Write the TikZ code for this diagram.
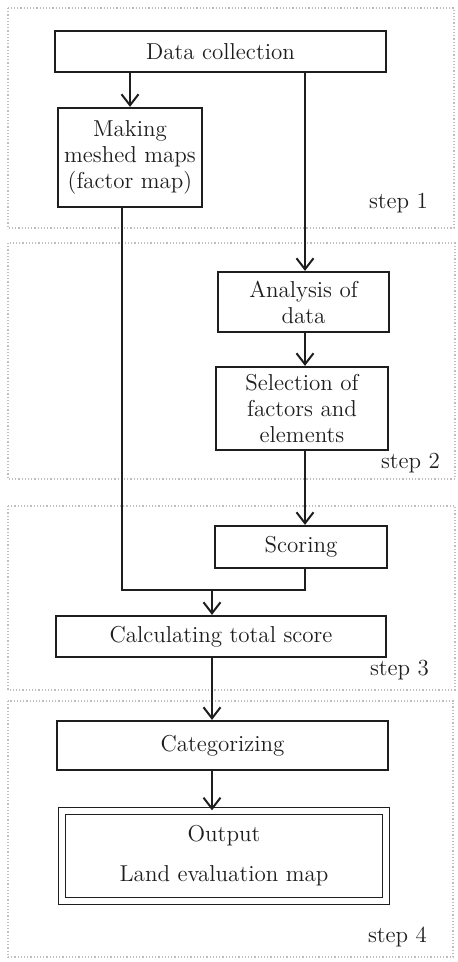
\documentclass[tikz,border=0pt]{standalone}
\usepackage{xcolor}
\definecolor{ink}{RGB}{30,30,30}
\definecolor{frame}{RGB}{190,190,190}
\usepackage{tikz}
\usetikzlibrary{arrows.meta,positioning,calc}

\begin{document}
\begin{tikzpicture}[
  x=0.5pt,y=-0.5pt,
  nd/.style={rectangle,draw=ink,line width=1.1pt,fill=white,text=ink,
             font=\fontsize{11.5}{13}\selectfont,inner sep=2pt,align=center},
  ar/.style={-{Straight Barb[length=5.5pt,width=8.5pt,line width=1pt]},ink,line width=1pt},
  ln/.style={ink,line width=1pt},
  stp/.style={font=\fontsize{11.5}{13}\selectfont,text=ink,anchor=east},
  fr/.style={draw=frame,densely dotted,line width=0.6pt},
]
  \useasboundingbox (0,0) rectangle (457,962);
  %% step frames
  \draw[fr] (8,8) rectangle (454,228);
  \draw[fr] (8,243) rectangle (455,479);
  \draw[fr] (8,506) rectangle (455,690);
  \draw[fr] (8,701) rectangle (453,957);
  \node[stp] (s1) at (435,203) {step 1};
  \node[stp] (s2) at (447,463) {step 2};
  \node[stp] (s3) at (436,670) {step 3};
  \node[stp] (s4) at (434,937) {step 4};

  \node[nd,minimum width=165.5pt,minimum height=20.5pt] (dc) at (220.5,51.5) {Data collection};
  \node[nd,minimum width=72pt,minimum height=49.5pt] (mesh) at (130,157.5)
    {Making\\meshed maps\\(factor map)};
  \node[nd,minimum width=85.5pt,minimum height=30pt] (anl) at (303.5,302)
    {Analysis of\\data};
  \node[nd,minimum width=86pt,minimum height=41.5pt] (sel) at (302,408.5)
    {Selection of\\factors and\\elements};
  \node[nd,minimum width=86pt,minimum height=21pt] (scr) at (301,547) {Scoring};
  \node[nd,minimum width=165pt,minimum height=20.5pt] (tot) at (221,636.5)
    {Calculating total score};
  \node[nd,minimum width=165.5pt,minimum height=24.5pt] (cat) at (222.5,745.5)
    {Categorizing};
  \node[nd,line width=0.7pt,double,double distance=3pt,
        minimum width=162pt,minimum height=45pt] (out) at (224,856)
    {Output\\[7pt]Land evaluation map};

  \coordinate (rc) at (305,0);
  \coordinate (lc) at (122,0);
  \coordinate (mrg) at (212,590);
  \draw[ar] (mesh.north |- dc.south) -- (mesh.north);
  \draw[ar] (dc.south -| rc) -- (anl.north -| rc);
  \draw[ar] (anl.south -| rc) -- (sel.north -| rc);
  \draw[ar] (sel.south -| rc) -- (scr.north -| rc);
  \draw[ln] (mesh.south -| lc) |- (mrg) -| (scr.south -| rc);
  \draw[ar] (mrg) -- (mrg |- tot.north);
  \draw[ar] (tot.south -| mrg) -- (cat.north -| mrg);
  \draw[ar] (cat.south -| mrg) -- (out.north -| mrg);
\end{tikzpicture}
\end{document}
